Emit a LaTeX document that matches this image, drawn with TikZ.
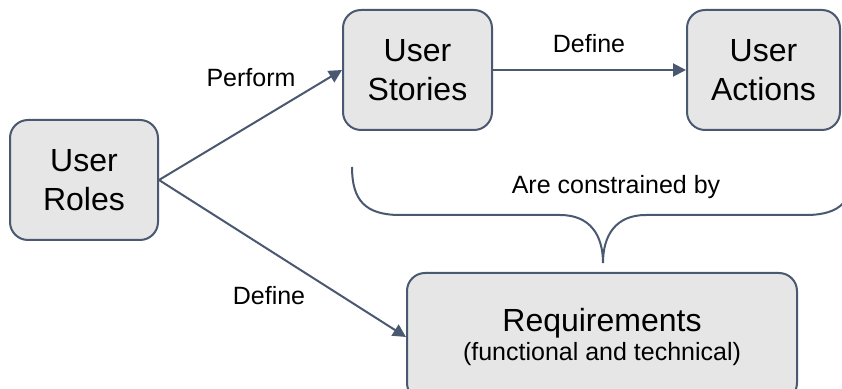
\documentclass[tikz,border=0pt]{standalone}
\usepackage{fontspec}
\setmainfont{Liberation Sans}
\usetikzlibrary{arrows.meta}
\definecolor{slateline}{HTML}{4A5870}
\definecolor{cardgray}{HTML}{E6E6E6}
\begin{document}
\begin{tikzpicture}[x=0.5pt, y=-0.5pt,
    card/.style={draw=slateline, fill=cardgray, line width=1pt, rounded corners=9pt,
        align=center, inner sep=0pt, font=\fontsize{16}{19.5}\selectfont},
    link/.style={draw=slateline, line width=1pt, -{Triangle[length=6.5pt,width=6.5pt]}},
    lbl/.style={font=\fontsize{12.5}{15}\selectfont}]
    \clip (0,0) rectangle (842,389);
    % Boxes
    \node[card, minimum width=74pt, minimum height=60pt] (roles) at (84,180) {User\\Roles};
    \node[card, minimum width=74.5pt, minimum height=60pt] (stories) at (417.5,70) {User\\Stories};
    \node[card, minimum width=76.5pt, minimum height=60pt] (actions) at (763.5,70) {User\\Actions};
    \node[card, minimum width=195pt, minimum height=64pt] (reqs) at (602,337)
        {Requirements\\[-5pt]{\fontsize{12.5}{15}\selectfont (functional and technical)}};
    % Arrows between the boxes
    \draw[link] (roles.east) -- (stories.west);
    \draw[link] (roles.east) -- (reqs.west);
    \draw[link] (stories.east) -- (actions.west);
    \node[lbl] (perform) at (251,78) {Perform};
    \node[lbl] (defineacts) at (589,44) {Define};
    \node[lbl] (definereqs) at (269,296) {Define};
    % Brace over the requirements
    \draw[slateline, line width=1pt] (352,167) .. controls (352,200) and (365,215) .. (400,215)
        -- (560,215) .. controls (590,215) and (603,235) .. (603,263)
        .. controls (603,235) and (616,215) .. (646,215) -- (806,215)
        .. controls (841,215) and (854,200) .. (854,167);
    \node[lbl] (constrained) at (616,187) {Are constrained by};
\end{tikzpicture}
\end{document}
